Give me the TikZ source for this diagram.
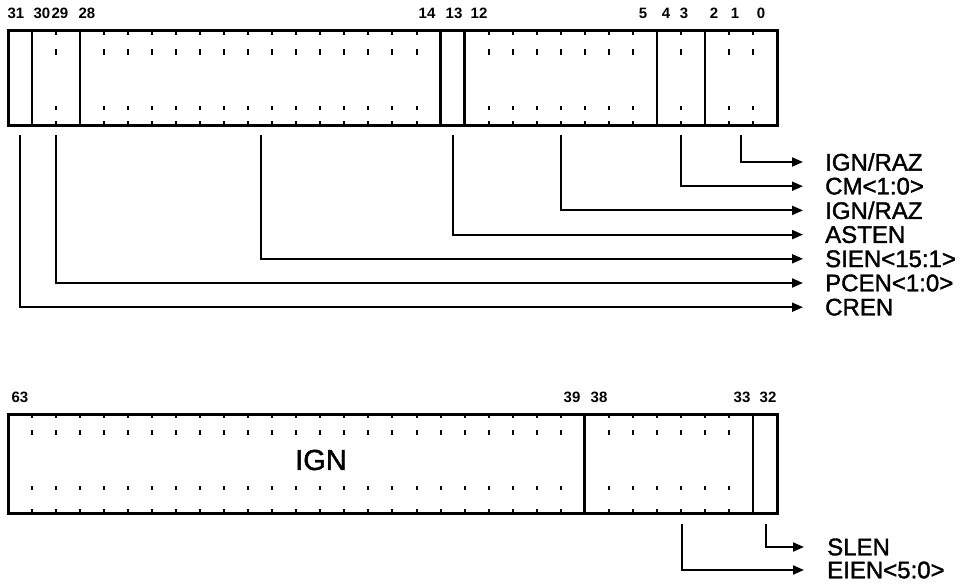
\documentclass[tikz,border=0pt]{standalone}
\usepackage{fontspec}
\setmainfont{Liberation Sans}
\newfontfamily\labfont[FakeBold=1.5]{Liberation Sans}
\usetikzlibrary{arrows.meta}
\begin{document}
\begin{tikzpicture}[x=1pt,y=-1pt,
  regbox/.style={draw, line width=3pt, inner sep=0pt, outer sep=0pt, anchor=north west},
  sepline/.style={line width=2.6pt},
  mk/.style={line width=2pt},
  conn/.style={line width=2pt, -{Triangle[length=11pt,width=9pt]}},
  lab/.style={font=\labfont\fontsize{24}{24}\selectfont, anchor=west, inner sep=0pt},
  bitlab/.style={font=\bfseries\fontsize{15}{15}\selectfont, inner sep=0pt},
  biglab/.style={font=\labfont\fontsize{29}{29}\selectfont, inner sep=0pt},
]
\useasboundingbox (0,0) rectangle (974,586);
\def\W{24.03}
% ---------- upper register ----------
\node[regbox, minimum width=769pt, minimum height=94pt] (top) at (8,31) {};
\foreach \i in {1,3,18,19,27,29}
  \draw[sepline] (8+\i*\W,31) -- (8+\i*\W,125);
\foreach \i in {2,4,5,...,17,20,21,...,26,28,30,31}{
  \draw[mk] (8+\i*\W,31) -- (8+\i*\W,35);
  \draw[mk] (8+\i*\W,49) -- (8+\i*\W,55);
  \draw[mk] (8+\i*\W,106) -- (8+\i*\W,110);
  \draw[mk] (8+\i*\W,121) -- (8+\i*\W,125);
}
\foreach \n/\x in {31/16,30/42,29/60,28/87,14/427,13/454,12/479,5/643,4/666,3/684,2/714,1/735,0/761}
  \node[bitlab] (b\n) at (\x,13) {\n};
% connector sources
\coordinate (s0) at (741,135);
\coordinate (s1) at (681,135);
\coordinate (s2) at (561,135);
\coordinate (s3) at (453,135);
\coordinate (s4) at (261,135);
\coordinate (s5) at (56,135);
\coordinate (s6) at (20,135);
\foreach \k/\t in {0/IGN\slash RAZ,1/CM<1:0>,2/IGN\slash RAZ,3/ASTEN,4/SIEN<15:1>,5/PCEN<1:0>,6/CREN}{
  \coordinate (e\k) at (803,162+24.2*\k);
  \node[lab] (l\k) at (825,162+24.2*\k) {\t};
  \draw[conn] (s\k) |- (e\k);
}
% ---------- lower register ----------
\node[regbox, minimum width=769pt, minimum height=99pt] (bot) at (8,414) {};
\foreach \i in {24,31}
  \draw[sepline] (8+\i*\W,414) -- (8+\i*\W,513);
\foreach \i in {1,2,...,23,25,26,...,30}{
  \draw[mk] (8+\i*\W,414) -- (8+\i*\W,418);
  \draw[mk] (8+\i*\W,430) -- (8+\i*\W,435);
  \draw[mk] (8+\i*\W,486) -- (8+\i*\W,490);
  \draw[mk] (8+\i*\W,509) -- (8+\i*\W,513);
}
\foreach \n/\x in {63/20,39/572,38/599,33/742,32/768}
  \node[bitlab] (c\n) at (\x,397) {\n};
\node[biglab] (ign) at (321,460) {IGN};
\coordinate (t0) at (766,524);
\coordinate (t1) at (682,524);
\coordinate (f0) at (804,547);
\coordinate (f1) at (804,570);
\node[lab] (m0) at (827,547) {SLEN};
\node[lab] (m1) at (827,570) {EIEN<5:0>};
\draw[conn] (t0) |- (f0);
\draw[conn] (t1) |- (f1);
\end{tikzpicture}
\end{document}
